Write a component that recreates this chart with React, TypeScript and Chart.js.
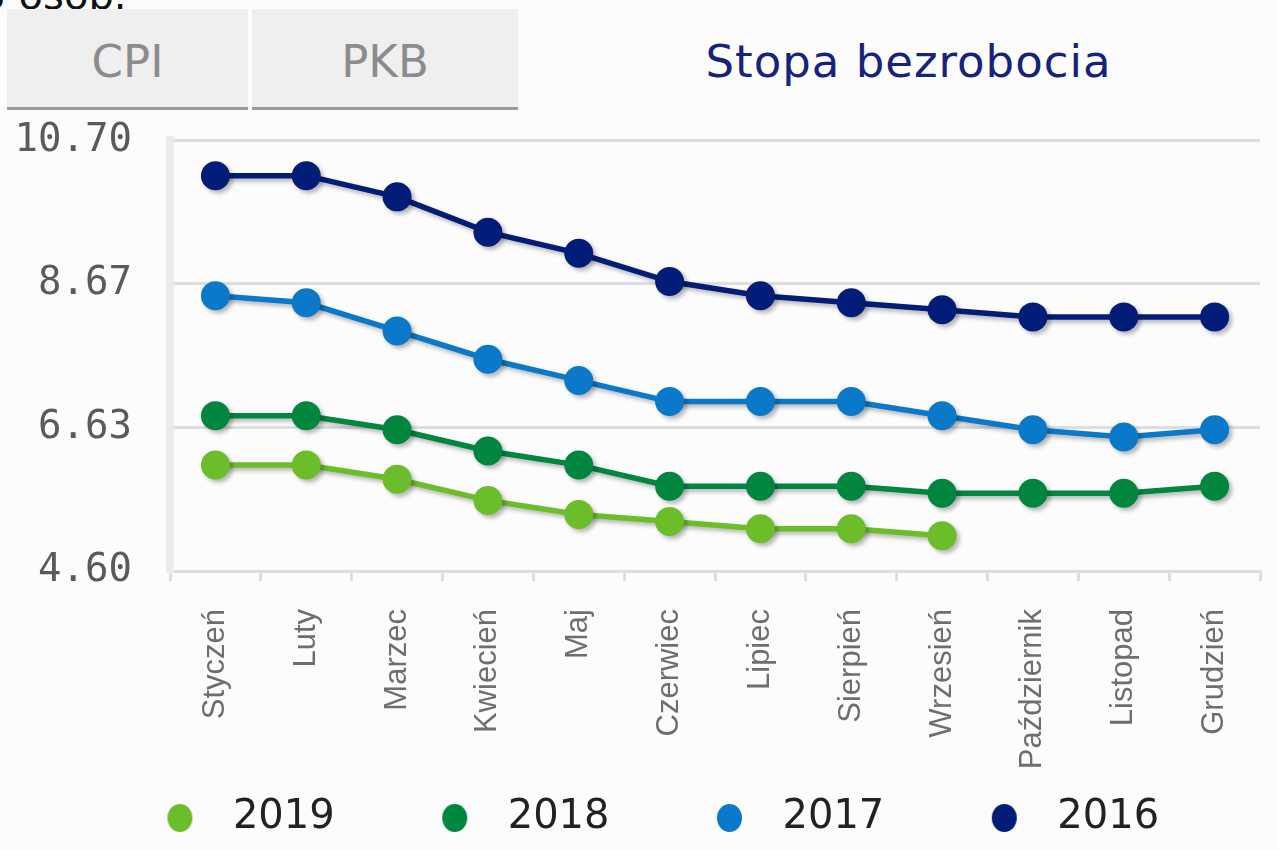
import React, { useEffect, useRef } from "react";
import { Chart, registerables } from "chart.js";

Chart.register(...registerables);

const months = [
  "Styczeń", "Luty", "Marzec", "Kwiecień", "Maj", "Czerwiec",
  "Lipiec", "Sierpień", "Wrzesień", "Październik", "Listopad", "Grudzień",
];
const years = ["2019", "2018", "2017", "2016"];
const rate2019 = [6.1, 6.1, 5.9, 5.6, 5.4, 5.3, 5.2, 5.2, 5.1, null, null, null];
const rate2018 = [6.8, 6.8, 6.6, 6.3, 6.1, 5.8, 5.8, 5.8, 5.7, 5.7, 5.7, 5.8];
const rate2017 = [8.5, 8.4, 8.0, 7.6, 7.3, 7.0, 7.0, 7.0, 6.8, 6.6, 6.5, 6.6];
const rate2016 = [10.2, 10.2, 9.9, 9.4, 9.1, 8.7, 8.5, 8.4, 8.3, 8.2, 8.2, 8.2];
const yTicks = [4.6, 6.6333, 8.6667, 10.7];
const tabLabels = ["CPI", "PKB", "Stopa bezrobocia"];
const seriesColors = ["#6cbd2a", "#00863f", "#0a79c9", "#021d77"];

// legend marker: dot drawn off-centre inside a wider transparent image
function makeDot(color: string) {
  const c = document.createElement("canvas");
  c.width = 140;
  c.height = 32;
  const g = c.getContext("2d")!;
  g.fillStyle = color;
  g.beginPath();
  g.ellipse(104.5, 16, 12.5, 14, 0, 0, Math.PI * 2);
  g.fill();
  return c;
}

const shadowPlugin = {
  id: "lineShadow",
  beforeDatasetDraw(chart: any) {
    const ctx = chart.ctx;
    ctx.save();
    ctx.shadowColor = "rgba(0,0,0,0.28)";
    ctx.shadowBlur = 4;
    ctx.shadowOffsetX = 3;
    ctx.shadowOffsetY = 3;
  },
  afterDatasetDraw(chart: any) {
    chart.ctx.restore();
  },
};

const CANVAS_LEFT = -47;
const CANVAS_TOP = 79;
const CANVAS_W = 1331;
const CANVAS_H = 769;

function UnemploymentChart() {
  const ref = useRef<HTMLCanvasElement | null>(null);
  useEffect(() => {
    if (!ref.current) return;
    const seriesData = [rate2019, rate2018, rate2017, rate2016];
    const dots = seriesColors.map(makeDot);
    const chart = new Chart(ref.current, {
      type: "line",
      data: {
        labels: months,
        datasets: years.map((y, i) => ({
          label: y,
          data: seriesData[i],
          borderColor: seriesColors[i],
          backgroundColor: seriesColors[i],
          pointBackgroundColor: seriesColors[i],
          pointBorderColor: seriesColors[i],
          pointBorderWidth: 0,
          pointRadius: 14.5,
          pointHoverRadius: 14.5,
          borderWidth: 5.5,
          tension: 0,
          fill: false,
          spanGaps: false,
          yAxisID: "y",
        })),
      },
      options: {
        responsive: false,
        animation: false,
        devicePixelRatio: 1,
        events: [],
        layout: { padding: { top: 0, right: 0, left: 0, bottom: 0 } },
        plugins: {
          tooltip: { enabled: false },
          legend: {
            position: "bottom",
            labels: {
              usePointStyle: true,
              pointStyleWidth: 135,
              boxHeight: 40,
              padding: 18,
              color: "#222222",
              font: { family: "'DejaVu Sans'", size: 40 },
              generateLabels: (ch: any) =>
                Chart.defaults.plugins.legend.labels
                  .generateLabels(ch)
                  .map((it: any, i: number) => ({ ...it, pointStyle: dots[i] })),
            },
          },
        },
        scales: {
          x: {
            type: "category",
            offset: true,
            grid: {
              offset: true,
              drawOnChartArea: false,
              tickLength: 10,
              color: "#dedede",
              lineWidth: 3,
            },
            border: { color: "#dedede", width: 3 },
            ticks: {
              minRotation: 90,
              maxRotation: 90,
              autoSkip: false,
              padding: 28,
              color: "#6e6e6e",
              font: { family: "'Liberation Sans'", size: 31 },
            },
            afterFit: (s: any) => {
              s.height = 209;
            },
          },
          y: {
            position: "left",
            min: 4.6,
            max: 10.7,
            afterBuildTicks: (s: any) => {
              s.ticks = yTicks.map((v) => ({ value: v }));
            },
            grid: { color: "#dedede", lineWidth: 3, drawTicks: false },
            border: { color: "#ebebeb", width: 8 },
            ticks: {
              padding: 38,
              color: "#5a5a5a",
              font: { family: "'DejaVu Sans Mono'", size: 39 },
              callback: (v: any) => Number(v).toFixed(2),
            },
            afterFit: (s: any) => {
              s.width = 170 - CANVAS_LEFT;
            },
          },
          spacer: {
            type: "linear",
            position: "right",
            grid: { display: false },
            border: { display: false },
            ticks: { display: false },
            afterFit: (s: any) => {
              s.width = 24;
            },
          },
        },
      },
      plugins: [shadowPlugin],
    } as any);
    return () => chart.destroy();
  }, []);
  return (
    <canvas
      ref={ref}
      width={CANVAS_W}
      height={CANVAS_H}
      style={{
        position: "absolute",
        left: CANVAS_LEFT,
        top: CANVAS_TOP,
        width: CANVAS_W,
        height: CANVAS_H,
      }}
    />
  );
}

export default function App() {
  const tabBase: React.CSSProperties = {
    position: "absolute",
    top: 9,
    height: 98,
    background: "#efefef",
    borderBottom: "3px solid #9b9b9b",
  };
  const tabText: React.CSSProperties = {
    position: "absolute",
    top: 30,
    left: 0,
    right: 0,
    textAlign: "center",
    fontFamily: "'DejaVu Sans'",
    fontSize: 45,
    lineHeight: "45px",
    whiteSpace: "nowrap",
  };
  return (
    <div
      style={{
        position: "fixed",
        left: 0,
        top: 0,
        width: 1278,
        height: 850,
        overflow: "hidden",
        background: "#fcfcfc",
      }}
    >
      <div
        style={{
          position: "absolute",
          left: -45,
          top: -25,
          fontFamily: "'DejaVu Sans'",
          fontSize: 40,
          lineHeight: "40px",
          color: "#111",
          whiteSpace: "nowrap",
        }}
      >
        13 osób.
      </div>
      <div style={{ ...tabBase, left: 7, width: 241 }}>
        <span style={{ ...tabText, color: "#8c8c8c" }}>{tabLabels[0]}</span>
      </div>
      <div style={{ ...tabBase, left: 252, width: 266 }}>
        <span style={{ ...tabText, color: "#8c8c8c" }}>{tabLabels[1]}</span>
      </div>
      <div style={{ position: "absolute", top: 9, height: 98, left: 520, width: 777 }}>
        <span style={{ ...tabText, color: "#17237a", letterSpacing: 1 }}>{tabLabels[2]}</span>
      </div>
      <UnemploymentChart />
    </div>
  );
}
